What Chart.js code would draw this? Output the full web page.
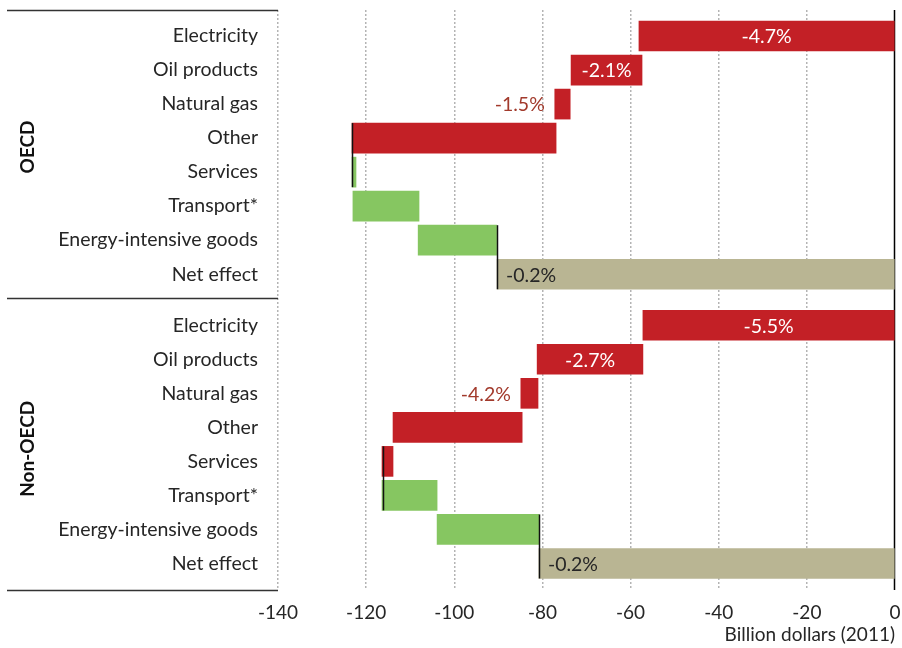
<!DOCTYPE html>
<html>
<head>
<meta charset="utf-8">
<script src="https://cdn.jsdelivr.net/npm/chart.js@4/dist/chart.umd.min.js"></script>
<style>
  html, body { margin: 0; padding: 0; background: #fff; }
  #wrap { width: 902px; height: 648px; }
</style>
</head>
<body>
<div id="wrap"><canvas id="c" width="902" height="648"></canvas></div>
<script>
// Categories shown for each region
const categories = ['Electricity', 'Oil products', 'Natural gas', 'Other', 'Services', 'Transport*', 'Energy-intensive goods', 'Net effect'];
const regions = ['OECD', 'Non-OECD'];

// Kind of each step: fuel cost (red), sector effect (green), net result (tan)
const kindsOecd    = ['fuel', 'fuel', 'fuel', 'fuel', 'sector', 'sector', 'sector', 'net'];
const kindsNonOecd = ['fuel', 'fuel', 'fuel', 'fuel', 'fuel', 'sector', 'sector', 'net'];

// Floating bar ranges, billion dollars (2011): low and high end of each step
const oecdLow  = [-58.1, -73.5, -77.2, -123.2, -123.2, -123.0, -108.2, -90.3];
const oecdHigh = [0,     -57.4, -73.7, -76.9,  -122.3, -108.0, -90.4,  0];
const nonOecdLow  = [-57.2, -81.2, -84.9, -113.9, -116.4, -116.4, -103.9, -80.8];
const nonOecdHigh = [0,     -57.2, -81.0, -84.6,  -113.9, -103.9, -80.8,  0];

// Percentage labels attached to the bars
const oecdLabels    = ['-4.7%', '-2.1%', '-1.5%', '', '', '', '', '-0.2%'];
const nonOecdLabels = ['-5.5%', '-2.7%', '-4.2%', '', '', '', '', '-0.2%'];

// Connector lines: value where the step turns, drawn across two adjacent rows
const oecdConnectors    = [{ value: -123.2, row: 3 }, { value: -90.3, row: 6 }];
const nonOecdConnectors = [{ value: -116.2, row: 4 }, { value: -80.8, row: 6 }];

const xTicks = [-140, -120, -100, -80, -60, -40, -20, 0];

const COLORS = { fuel: '#c32026', sector: '#86c661', net: '#b9b593' };
const FONT = 'Lato, "Open Sans", sans-serif';

// Row positions on the vertical scale: the second region is pushed down by a gap
const GROUP_OFFSET = 8.5;
const rowPos = (g, i) => g * GROUP_OFFSET + i;

const points = [], colors = [], labels = [], tickPos = [], tickText = [];
[[oecdLow, oecdHigh, oecdLabels, kindsOecd], [nonOecdLow, nonOecdHigh, nonOecdLabels, kindsNonOecd]]
  .forEach(([lo, hi, lab, kd], g) => {
    categories.forEach((cat, i) => {
      points.push({ y: rowPos(g, i), x: [lo[i], hi[i]] });
      colors.push(COLORS[kd[i]]);
      labels.push(lab[i]);
      tickPos.push(rowPos(g, i));
      tickText.push(cat);
    });
  });
const connectors = [
  ...oecdConnectors.map(c => ({ value: c.value, row: rowPos(0, c.row) })),
  ...nonOecdConnectors.map(c => ({ value: c.value, row: rowPos(1, c.row) }))
];

const decorations = {
  id: 'decorations',
  beforeDatasetsDraw(chart) {
    const { ctx, chartArea: a, scales: { x } } = chart;
    // solid zero line
    const zx = Math.round(x.getPixelForValue(0)) - 0.5;
    ctx.save();
    ctx.strokeStyle = '#000';
    ctx.lineWidth = 1.5;
    ctx.beginPath();
    ctx.moveTo(zx, a.top);
    ctx.lineTo(zx, a.bottom);
    ctx.stroke();
    ctx.restore();
  },
  afterDatasetsDraw(chart) {
    const { ctx, chartArea: a, scales: { x, y } } = chart;
    const meta = chart.getDatasetMeta(0);
    ctx.save();

    // connectors between consecutive steps
    ctx.strokeStyle = '#111';
    ctx.lineWidth = 1.5;
    connectors.forEach(c => {
      const half = meta.data[0].height / 2;
      const px = Math.round(x.getPixelForValue(c.value)) + 0.5;
      ctx.beginPath();
      ctx.moveTo(px, y.getPixelForValue(c.row) - half);
      ctx.lineTo(px, y.getPixelForValue(c.row + 1) + half);
      ctx.stroke();
    });

    // value labels
    ctx.font = '19.5px ' + FONT;
    ctx.textBaseline = 'middle';
    meta.data.forEach((bar, i) => {
      const t = labels[i];
      if (!t) return;
      const left = Math.min(bar.x, bar.base), right = Math.max(bar.x, bar.base);
      const w = ctx.measureText(t).width;
      if (colors[i] === COLORS.net) {
        ctx.fillStyle = '#262626';
        ctx.textAlign = 'left';
        ctx.fillText(t, left + 9, bar.y + 1);
      } else if (right - left > w + 12) {
        ctx.fillStyle = '#ffffff';
        ctx.textAlign = 'center';
        ctx.fillText(t, (left + right) / 2, bar.y + 1);
      } else {
        ctx.fillStyle = '#a23a2c';
        ctx.textAlign = 'right';
        ctx.fillText(t, left - 10, bar.y + 1);
      }
    });

    // region separators in the label column
    const bounds = [y.min, 7.7, y.max];
    ctx.strokeStyle = '#333';
    ctx.lineWidth = 1.5;
    bounds.forEach(v => {
      const py = Math.round(y.getPixelForValue(v)) + 0.5;
      ctx.beginPath();
      ctx.moveTo(7, py);
      ctx.lineTo(a.left, py);
      ctx.stroke();
    });

    // rotated region names
    ctx.font = 'bold 19px ' + FONT;
    ctx.fillStyle = '#111';
    ctx.textAlign = 'center';
    ctx.textBaseline = 'middle';
    [[regions[0], 3.26], [regions[1], 12.13]].forEach(([name, v]) => {
      ctx.save();
      ctx.translate(28, y.getPixelForValue(v));
      ctx.rotate(-Math.PI / 2);
      ctx.fillText(name, 0, 0);
      ctx.restore();
    });
    ctx.restore();
  }
};

new Chart(document.getElementById('c'), {
  type: 'bar',
  data: {
    datasets: [{
      data: points,
      backgroundColor: colors,
      borderWidth: 0,
      barThickness: 30,
      grouped: false
    }]
  },
  options: {
    indexAxis: 'y',
    responsive: false,
    devicePixelRatio: 1,
    animation: false,
    layout: { padding: { top: 10, right: 7, left: 0, bottom: 0 } },
    plugins: { legend: { display: false }, tooltip: { enabled: false } },
    scales: {
      x: {
        type: 'linear',
        min: -140,
        max: 0,
        afterBuildTicks: s => { s.ticks = xTicks.map(v => ({ value: v })); },
        afterFit: s => { s.height = 58; s.paddingLeft = 0; s.paddingRight = 0; },
        grid: {
          color: ctx => (ctx.tick && ctx.tick.value === 0) ? 'rgba(0,0,0,0)' : '#b4b4b4',
          lineWidth: 1.5,
          drawTicks: false
        },
        border: { display: false, dash: [2, 2] },
        ticks: {
          padding: 11,
          color: '#262626',
          font: { family: FONT, size: 19, lineHeight: 1.2 },
          maxRotation: 0
        },
        title: {
          display: true,
          text: 'Billion dollars (2011)',
          align: 'end',
          color: '#262626',
          font: { family: FONT, size: 19, lineHeight: 1.2 },
          padding: { top: 0, bottom: 2 }
        }
      },
      y: {
        type: 'linear',
        reverse: true,
        offset: false,
        min: -0.765,
        max: 16.28,
        afterBuildTicks: s => { s.ticks = tickPos.map(v => ({ value: v })); },
        afterFit: s => { s.width = 278; s.paddingTop = 0; s.paddingBottom = 0; },
        grid: { display: false, drawTicks: false, offset: false },
        border: { display: false },
        ticks: {
          padding: 20,
          color: '#262626',
          autoSkip: false,
          font: { family: FONT, size: 19.5 },
          callback: (v, i) => tickText[i]
        }
      }
    }
  },
  plugins: [decorations]
});
</script>
</body>
</html>
